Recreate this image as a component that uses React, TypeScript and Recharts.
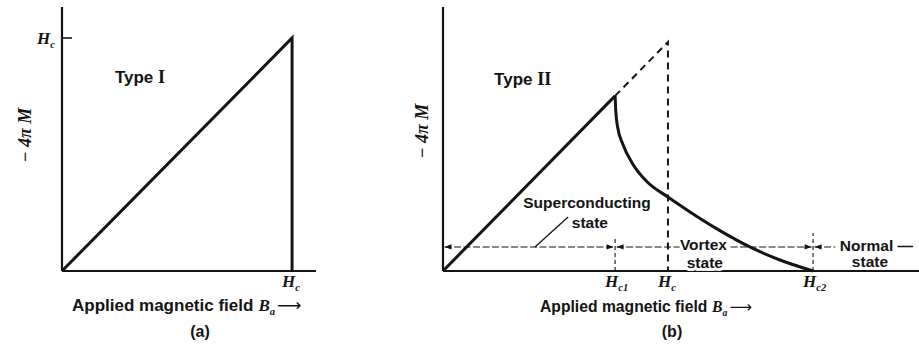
import React from 'react';
import { LineChart, Line, XAxis, YAxis, ReferenceLine, ReferenceDot } from 'recharts';

const INK = '#141414';
const SANS = '"Liberation Sans", Arial, sans-serif';
const SERIF = '"Liberation Serif", "Times New Roman", serif';

// (a) type I: -4πM follows the applied field up to Hc, then drops to zero
const typeIField = [0, 1, 1];
const typeIMagnet = [0, 1, 0];
const typeITicks = [1];
const typeITickSubs = ['c'];

// (b) type II
const HC1 = 0.765;
const HC = 1;
const HC2 = 1.645;
const meissnerField = [0, HC1];
const meissnerMagnet = [0, HC1];
// dashed continuation up to the thermodynamic Hc and back to the axis
const extrapField = [HC1, HC, HC];
const extrapMagnet = [HC1, HC, 0];
// vortex-state branch between Hc1 and Hc2
const vortexField = [0.765, 0.768, 0.776, 0.8, 0.842, 0.905, 1.0, 1.098, 1.218, 1.364, 1.498, 1.645];
const vortexMagnet = [0.765, 0.7, 0.63, 0.553, 0.47, 0.392, 0.323, 0.258, 0.184, 0.105, 0.048, 0];
const typeIITicks = [HC1, HC, HC2];
const typeIITickSubs = ['c1', 'c', 'c2'];
const STATE_ROW = 0.105;

const zip = (xs: number[], ys: number[]) => xs.map((b, i) => ({ b, m: ys[i] }));

const typeIData = zip(typeIField, typeIMagnet);
const meissnerData = zip(meissnerField, meissnerMagnet);
const extrapData = zip(extrapField, extrapMagnet);
const vortexData = zip(vortexField, vortexMagnet);

const HLabel = ({ x, y, sub, anchor = 'start', size = 17 }: any) => (
  <text
    x={x}
    y={y}
    textAnchor={anchor}
    fontFamily={SERIF}
    fontStyle="italic"
    fontWeight="bold"
    fontSize={size}
    fill={INK}
  >
    H
    <tspan fontSize={size * 0.62} dy={4}>
      {sub}
    </tspan>
  </text>
);

const fieldTick = (subs: string[]) => (props: any) => {
  const { x, y, index } = props;
  return <HLabel x={x - 10} y={y + 16} sub={subs[index]} />;
};

const MagnetTick = (props: any) => {
  const { x, y } = props;
  return (
    <g>
      <line x1={x} y1={y} x2={x + 10} y2={y} stroke={INK} strokeWidth={1.6} />
      <HLabel x={x - 7} y={y + 6} sub="c" anchor="end" />
    </g>
  );
};

const FieldTitle = (props: any) => {
  const { viewBox, dx, baseline, size, caption, captionDx } = props;
  const x = viewBox.x + dx;
  const y = viewBox.y + baseline;
  return (
    <g>
      <text x={x} y={y} fontFamily={SANS} fontWeight="bold" fontSize={size} fill={INK}>
        Applied magnetic field
        <tspan fontFamily={SERIF} fontStyle="italic" dx={size * 0.3}>
          B
        </tspan>
        <tspan fontFamily={SERIF} fontStyle="italic" fontSize={size * 0.62} dy={4}>
          a
        </tspan>
        <tspan fontFamily='"DejaVu Sans", sans-serif' fontWeight="normal" dx={2} dy={-4}>
          ⟶
        </tspan>
      </text>
      <text
        x={viewBox.x + captionDx}
        y={viewBox.y + 66}
        textAnchor="middle"
        fontFamily={SANS}
        fontWeight="bold"
        fontSize={16}
        fill={INK}
      >
        {caption}
      </text>
    </g>
  );
};

const MagnetTitle = (props: any) => {
  const { viewBox, dx, dy } = props;
  const cx = viewBox.x + dx;
  const cy = viewBox.y + viewBox.height / 2 + dy;
  return (
    <text
      x={cx}
      y={cy}
      transform={`rotate(-90 ${cx} ${cy})`}
      textAnchor="middle"
      dominantBaseline="central"
      fontFamily={SERIF}
      fontStyle="italic"
      fontWeight="bold"
      fontSize={18}
      fill={INK}
    >
      − 4π M
    </text>
  );
};

const Note = (props: any) => {
  const { viewBox, text, roman, anchor = 'start', size = 15.5, halo = false } = props;
  return (
    <text
      x={viewBox.x}
      y={viewBox.y}
      textAnchor={anchor}
      fontFamily={SANS}
      fontWeight="bold"
      fontSize={size}
      fill={INK}
      stroke={halo ? '#fff' : 'none'}
      strokeWidth={halo ? 6 : 0}
      paintOrder="stroke"
    >
      {text}
      {roman && (
        <tspan fontFamily={SERIF} fontSize={size + 1}>
          {roman}
        </tspan>
      )}
    </text>
  );
};

const StateArrow = (props: any) => {
  const { x1, y1, x2, heads } = props;
  const len = 7;
  const half = 2.6;
  const left = Math.min(x1, x2) + 1.5;
  const right = Math.max(x1, x2) - 1.5;
  return (
    <g>
      <line x1={left} y1={y1} x2={right} y2={y1} stroke={INK} strokeWidth={1.1} strokeDasharray="7 2.5" />
      {(heads === 'both' || heads === 'start') && (
        <path d={`M${left},${y1} l${len},${-half} l0,${2 * half} z`} fill={INK} />
      )}
      {(heads === 'both' || heads === 'end') && (
        <path d={`M${right},${y1} l${-len},${-half} l0,${2 * half} z`} fill={INK} />
      )}
    </g>
  );
};

const axisLine = { stroke: INK, strokeWidth: 2.2 };

const TypeIChart = () => (
  <LineChart width={330} height={344} margin={{ top: 7, right: 14, bottom: 72, left: 61 }}>
    <XAxis
      type="number"
      dataKey="b"
      domain={[0, 1.104]}
      ticks={typeITicks}
      interval={0}
      height={1}
      tickSize={0}
      tickMargin={0}
      tickLine={false}
      axisLine={axisLine}
      tick={fieldTick(typeITickSubs)}
      label={<FieldTitle dx={10} baseline={40} size={17} caption="(a)" captionDx={138} />}
    />
    <YAxis
      type="number"
      domain={[0, 1.133]}
      ticks={[1]}
      interval={0}
      width={1}
      tickSize={0}
      tickMargin={0}
      tickLine={false}
      axisLine={axisLine}
      tick={MagnetTick}
      label={<MagnetTitle dx={-36} dy={-4} />}
    />
    <Line
      data={typeIData}
      dataKey="m"
      type="linear"
      stroke={INK}
      strokeWidth={3}
      dot={false}
      isAnimationActive={false}
    />
    <ReferenceDot x={0.23} y={0.807} r={0} fill="none" stroke="none" label={<Note text="Type " roman="I" size={17} />} />
  </LineChart>
);

const TypeIIChart = () => (
  <LineChart width={539} height={344} margin={{ top: 7, right: 0, bottom: 72, left: 62 }}>
    <XAxis
      type="number"
      dataKey="b"
      domain={[0, 2.116]}
      ticks={typeIITicks}
      interval={0}
      height={1}
      tickSize={0}
      tickMargin={0}
      tickLine={false}
      axisLine={axisLine}
      tick={fieldTick(typeIITickSubs)}
      label={<FieldTitle dx={97} baseline={41} size={15.7} caption="(b)" captionDx={229} />}
    />
    <YAxis
      type="number"
      domain={[0, 1.153]}
      width={1}
      tick={false}
      tickLine={false}
      axisLine={axisLine}
      label={<MagnetTitle dx={-20} dy={-8} />}
    />

    {/* phase boundaries along the state row */}
    <ReferenceLine
      segment={[{ x: HC1, y: 0 }, { x: HC1, y: 0.148 }]}
      stroke={INK}
      strokeWidth={1.1}
      strokeDasharray="4 3"
    />
    <ReferenceLine
      segment={[{ x: HC2, y: 0 }, { x: HC2, y: 0.166 }]}
      stroke={INK}
      strokeWidth={1.1}
      strokeDasharray="4 3"
    />
    <ReferenceLine
      segment={[{ x: 0, y: STATE_ROW }, { x: HC1, y: STATE_ROW }]}
      shape={(p: any) => <StateArrow {...p} heads="both" />}
    />
    <ReferenceLine
      segment={[{ x: HC1, y: STATE_ROW }, { x: HC2, y: STATE_ROW }]}
      shape={(p: any) => <StateArrow {...p} heads="both" />}
    />
    <ReferenceLine
      segment={[{ x: HC2, y: STATE_ROW }, { x: 1.75, y: STATE_ROW }]}
      shape={(p: any) => <StateArrow {...p} heads="start" />}
    />
    {/* pointer from the label to the superconducting interval */}
    <ReferenceLine
      segment={[{ x: 0.556, y: 0.236 }, { x: 0.409, y: STATE_ROW }]}
      stroke={INK}
      strokeWidth={1.3}
    />

    <Line
      data={meissnerData}
      dataKey="m"
      type="linear"
      stroke={INK}
      strokeWidth={3}
      dot={false}
      isAnimationActive={false}
    />
    <Line
      data={extrapData}
      dataKey="m"
      type="linear"
      stroke={INK}
      strokeWidth={2}
      strokeDasharray="7 5"
      dot={false}
      isAnimationActive={false}
    />
    <Line
      data={vortexData}
      dataKey="m"
      type="monotone"
      stroke={INK}
      strokeWidth={3}
      dot={false}
      isAnimationActive={false}
    />

    <ReferenceDot x={0.227} y={0.812} r={0} fill="none" stroke="none" label={<Note text="Type " roman="II" size={17} />} />
    <ReferenceDot x={0.64} y={0.275} r={0} fill="none" stroke="none" label={<Note text="Superconducting" anchor="middle" />} />
    <ReferenceDot x={0.653} y={0.188} r={0} fill="none" stroke="none" label={<Note text="state" anchor="middle" />} />
    <ReferenceDot x={1.053} y={0.092} r={0} fill="none" stroke="none" label={<Note text="Vortex" halo />} />
    <ReferenceDot x={1.164} y={0.013} r={0} fill="none" stroke="none" label={<Note text="state" anchor="middle" halo />} />
    <ReferenceDot x={1.764} y={0.087} r={0} fill="none" stroke="none" label={<Note text="Normal —" halo />} />
    <ReferenceDot x={1.898} y={0.017} r={0} fill="none" stroke="none" label={<Note text="state" anchor="middle" halo />} />
  </LineChart>
);

export default function App() {
  return (
    <div style={{ position: 'absolute', left: 0, top: 0, width: 919, height: 344, background: '#fff' }}>
      <div style={{ position: 'absolute', left: 0, top: 0 }}>
        <TypeIChart />
      </div>
      <div style={{ position: 'absolute', left: 380, top: 0 }}>
        <TypeIIChart />
      </div>
    </div>
  );
}
